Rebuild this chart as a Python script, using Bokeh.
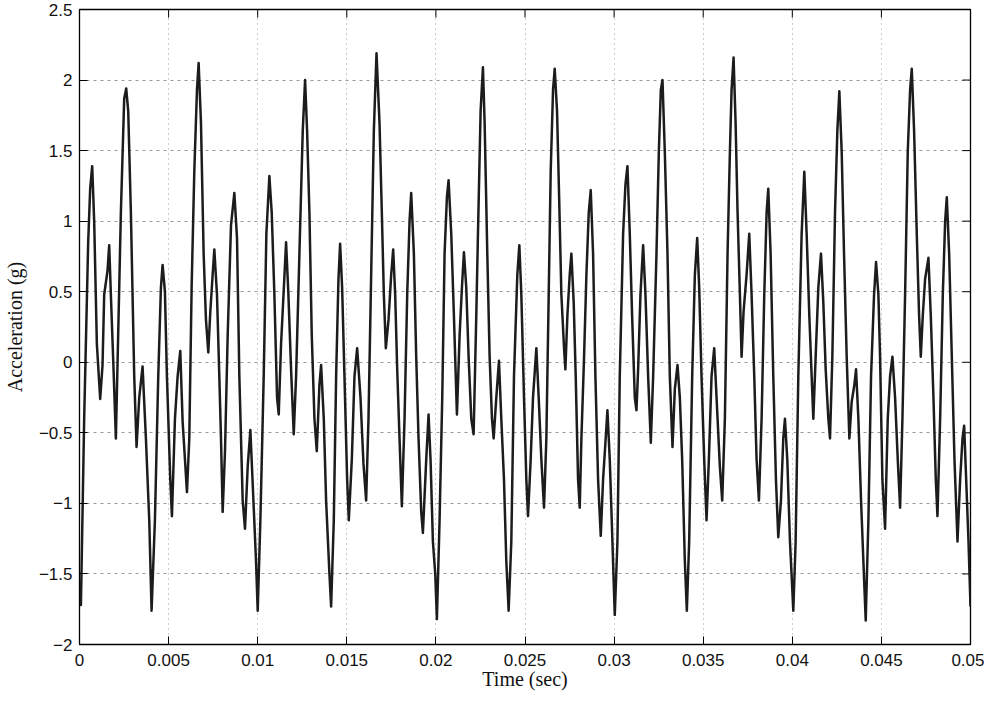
import math
from bokeh.plotting import figure
from bokeh.models import Range1d, FixedTicker, CustomJSTickFormatter
from bokeh.embed import file_html
from bokeh.resources import INLINE

# Acceleration trace
time_s = [
    0.000000, 0.000080, 0.000262, 0.000487, 0.000599, 0.000712, 0.000824, 0.000974, 0.001161, 0.001292,
    0.001386, 0.001573, 0.001667, 0.001760, 0.001910, 0.002041, 0.002322, 0.002509, 0.002622, 0.002734,
    0.002884, 0.003071, 0.003202, 0.003352, 0.003539, 0.003727, 0.003914, 0.004045, 0.004232, 0.004419,
    0.004569, 0.004663, 0.004794, 0.004906, 0.005094, 0.005187, 0.005356, 0.005506, 0.005655, 0.005787,
    0.006030, 0.006161, 0.006292, 0.006442, 0.006592, 0.006685, 0.006816, 0.006966, 0.007097, 0.007228,
    0.007341, 0.007472, 0.007566, 0.007715, 0.007846, 0.007940, 0.008034, 0.008165, 0.008315, 0.008502,
    0.008689, 0.008839, 0.008970, 0.009157, 0.009288, 0.009438, 0.009588, 0.009719, 0.009906, 0.010000,
    0.010150, 0.010337, 0.010487, 0.010655, 0.010787, 0.010936, 0.011086, 0.011180, 0.011311, 0.011461,
    0.011592, 0.011723, 0.011873, 0.012022, 0.012154, 0.012341, 0.012528, 0.012659, 0.012772, 0.012903,
    0.013034, 0.013184, 0.013315, 0.013464, 0.013558, 0.013708, 0.013839, 0.014026, 0.014120, 0.014270,
    0.014401, 0.014532, 0.014625, 0.014738, 0.014869, 0.015019, 0.015112, 0.015281, 0.015431, 0.015581,
    0.015768, 0.015936, 0.016086, 0.016217, 0.016367, 0.016517, 0.016667, 0.016835, 0.016966, 0.017079,
    0.017191, 0.017341, 0.017491, 0.017603, 0.017715, 0.017828, 0.017959, 0.018090, 0.018240, 0.018390,
    0.018521, 0.018614, 0.018764, 0.018895, 0.019026, 0.019176, 0.019270, 0.019457, 0.019588, 0.019700,
    0.019831, 0.019963, 0.020056, 0.020206, 0.020356, 0.020487, 0.020618, 0.020712, 0.020861, 0.021011,
    0.021180, 0.021330, 0.021461, 0.021573, 0.021704, 0.021835, 0.021985, 0.022116, 0.022266, 0.022360,
    0.022509, 0.022640, 0.022734, 0.022884, 0.023015, 0.023146, 0.023240, 0.023389, 0.023539, 0.023670,
    0.023820, 0.023951, 0.024082, 0.024232, 0.024382, 0.024569, 0.024682, 0.024794, 0.024944, 0.025075,
    0.025169, 0.025318, 0.025449, 0.025637, 0.025768, 0.025918, 0.026067, 0.026199, 0.026330, 0.026442,
    0.026573, 0.026667, 0.026798, 0.026910, 0.027041, 0.027191, 0.027266, 0.027378, 0.027509, 0.027603,
    0.027734, 0.027846, 0.027978, 0.028071, 0.028165, 0.028315, 0.028446, 0.028577, 0.028689, 0.028820,
    0.028951, 0.029101, 0.029251, 0.029382, 0.029513, 0.029625, 0.029757, 0.029906, 0.030037, 0.030187,
    0.030318, 0.030506, 0.030637, 0.030749, 0.030880, 0.031011, 0.031161, 0.031255, 0.031348, 0.031479,
    0.031629, 0.031760, 0.031910, 0.032060, 0.032191, 0.032378, 0.032510, 0.032622, 0.032715, 0.032846,
    0.032996, 0.033127, 0.033277, 0.033408, 0.033558, 0.033689, 0.033820, 0.033970, 0.034082, 0.034213,
    0.034382, 0.034532, 0.034663, 0.034775, 0.034906, 0.035056, 0.035187, 0.035318, 0.035468, 0.035618,
    0.035749, 0.035936, 0.036067, 0.036217, 0.036367, 0.036498, 0.036592, 0.036704, 0.036817, 0.036929,
    0.037060, 0.037154, 0.037266, 0.037434, 0.037584, 0.037715, 0.037865, 0.037996, 0.038127, 0.038277,
    0.038427, 0.038558, 0.038652, 0.038783, 0.038933, 0.039082, 0.039213, 0.039363, 0.039494, 0.039588,
    0.039719, 0.039869, 0.040056, 0.040187, 0.040337, 0.040524, 0.040674, 0.040805, 0.040955, 0.041086,
    0.041180, 0.041311, 0.041461, 0.041610, 0.041742, 0.041873, 0.042022, 0.042116, 0.042247, 0.042397,
    0.042528, 0.042640, 0.042772, 0.042903, 0.043052, 0.043202, 0.043333, 0.043483, 0.043577, 0.043708,
    0.043858, 0.043989, 0.044120, 0.044270, 0.044419, 0.044588, 0.044700, 0.044831, 0.044925, 0.045056,
    0.045206, 0.045356, 0.045487, 0.045618, 0.045768, 0.045918, 0.046049, 0.046180, 0.046330, 0.046479,
    0.046611, 0.046704, 0.046835, 0.046985, 0.047116, 0.047210, 0.047322, 0.047453, 0.047640, 0.047772,
    0.047921, 0.048052, 0.048146, 0.048296, 0.048446, 0.048577, 0.048670, 0.048802, 0.048951, 0.049101,
    0.049270, 0.049419, 0.049551, 0.049644, 0.049757, 0.049888, 0.050000,
]
accel_g = [
    -1.55, -1.72, -0.40, 0.85, 1.23, 1.39, 1.00, 0.13, -0.26, -0.02,
    0.48, 0.65, 0.83, 0.48, -0.05, -0.54, 1.06, 1.87, 1.94, 1.78,
    1.06, -0.10, -0.60, -0.25, -0.03, -0.54, -1.12, -1.76, -1.12, -0.10,
    0.53, 0.69, 0.50, -0.10, -0.83, -1.09, -0.40, -0.10, 0.08, -0.42,
    -0.92, -0.54, 0.53, 1.35, 1.93, 2.12, 1.70, 0.77, 0.30, 0.07,
    0.36, 0.62, 0.80, 0.48, -0.10, -0.54, -1.06, -0.63, 0.19, 0.97,
    1.20, 0.88, -0.10, -0.98, -1.18, -0.74, -0.48, -0.86, -1.41, -1.76,
    -1.12, -0.10, 0.91, 1.32, 1.06, 0.48, -0.25, -0.37, 0.13, 0.51,
    0.85, 0.48, -0.05, -0.51, -0.10, 0.77, 1.64, 2.00, 1.64, 1.06,
    0.19, -0.40, -0.63, -0.16, -0.02, -0.40, -0.98, -1.50, -1.73, -1.12,
    -0.10, 0.59, 0.84, 0.53, -0.10, -0.83, -1.12, -0.69, -0.10, 0.10,
    -0.25, -0.72, -0.98, -0.40, 0.62, 1.64, 2.19, 1.70, 1.06, 0.48,
    0.10, 0.30, 0.62, 0.80, 0.48, -0.05, -0.54, -1.02, -0.40, 0.48,
    1.00, 1.20, 0.77, 0.04, -0.54, -1.06, -1.21, -0.69, -0.37, -0.69,
    -1.27, -1.50, -1.82, -1.12, -0.25, 0.77, 1.17, 1.29, 0.91, 0.33,
    -0.37, 0.19, 0.53, 0.78, 0.53, 0.04, -0.40, -0.51, 0.33, 0.91,
    1.78, 2.09, 1.70, 0.77, 0.04, -0.40, -0.54, -0.25, 0.01, -0.40,
    -0.83, -1.41, -1.76, -1.27, -0.10, 0.62, 0.83, 0.48, -0.25, -0.83,
    -1.09, -0.69, -0.25, 0.10, -0.25, -0.69, -1.03, -0.54, 0.48, 1.35,
    1.93, 2.08, 1.78, 1.20, 0.48, 0.10, -0.05, 0.33, 0.62, 0.77,
    0.42, -0.10, -0.83, -1.03, -0.54, 0.04, 0.62, 1.06, 1.22, 0.77,
    -0.10, -0.83, -1.23, -0.83, -0.57, -0.34, -0.69, -1.27, -1.79, -1.27,
    -0.10, 0.91, 1.26, 1.39, 0.91, 0.33, -0.25, -0.34, -0.05, 0.48,
    0.83, 0.48, -0.10, -0.57, -0.10, 0.77, 1.49, 1.93, 2.00, 1.49,
    0.77, -0.10, -0.60, -0.19, -0.02, -0.25, -0.69, -1.41, -1.76, -1.27,
    -0.10, 0.62, 0.88, 0.53, -0.10, -0.69, -1.12, -0.69, -0.10, 0.10,
    -0.25, -0.74, -0.98, -0.40, 0.77, 1.49, 1.93, 2.16, 1.70, 1.06,
    0.48, 0.04, 0.36, 0.62, 0.91, 0.48, -0.10, -0.69, -0.98, -0.40,
    0.48, 1.06, 1.23, 0.77, -0.10, -0.83, -1.24, -0.98, -0.54, -0.40,
    -0.69, -1.27, -1.76, -1.27, -0.10, 0.91, 1.35, 0.91, 0.33, -0.10,
    -0.40, 0.04, 0.53, 0.77, 0.42, -0.05, -0.40, -0.54, 0.04, 1.06,
    1.64, 1.92, 1.49, 0.77, 0.04, -0.54, -0.28, -0.16, -0.05, -0.40,
    -0.98, -1.41, -1.83, -1.12, -0.10, 0.48, 0.71, 0.48, 0.04, -0.83,
    -1.18, -0.40, -0.10, 0.04, -0.25, -0.69, -1.03, -0.40, 0.48, 1.49,
    1.93, 2.08, 1.64, 0.91, 0.33, 0.04, 0.33, 0.59, 0.74, 0.33,
    -0.25, -0.83, -1.09, -0.40, 0.48, 1.00, 1.17, 0.77, 0.04, -0.69,
    -1.27, -0.83, -0.54, -0.45, -0.83, -1.27, -1.73,
]

x_ticks = [0.0, 0.005, 0.01, 0.015, 0.02, 0.025, 0.03, 0.035, 0.04, 0.045, 0.05]
y_ticks = [-2.0, -1.5, -1.0, -0.5, 0.0, 0.5, 1.0, 1.5, 2.0, 2.5]
x_lo, x_hi = 0.0, 0.05
y_lo, y_hi = -2.0, 2.5
x_label = "Time (sec)"
y_label = "Acceleration (g)"

p = figure(width=984, height=694, output_backend="svg", toolbar_location=None,
           x_range=Range1d(x_lo, x_hi), y_range=Range1d(y_lo, y_hi),
           min_border_left=72, min_border_right=14, min_border_top=9, min_border_bottom=50,
           background_fill_color="white", border_fill_color="white")
p.outline_line_color = "black"
p.outline_line_width = 1.3

xfmt = CustomJSTickFormatter(code="return tick.toFixed(3).replace(/0+$/, '').replace(/\\.$/, '');")
yfmt = CustomJSTickFormatter(code="var a = Math.abs(tick); var s = String(Math.round(a*10)/10); return (tick < 0 ? '\\u2212' : '') + s;")

def style_axis(ax):
    ax.axis_line_color = "black"
    ax.major_tick_in = 8
    ax.major_tick_out = 0
    ax.minor_tick_line_color = None
    ax.major_tick_line_color = "black"
    ax.major_label_text_font = "Liberation Sans"
    ax.major_label_text_font_size = "17px"
    ax.major_label_text_color = "#111111"
    ax.axis_label_text_font = "Liberation Serif"
    ax.axis_label_text_font_size = "20px"
    ax.axis_label_text_font_style = "normal"
    ax.axis_label_text_color = "#111111"

for ax in p.xaxis:
    ax.ticker = FixedTicker(ticks=x_ticks)
    ax.formatter = xfmt
    style_axis(ax)
    ax.axis_label = x_label
    ax.major_label_standoff = 9
    ax.axis_label_standoff = -1
for ax in p.yaxis:
    ax.ticker = FixedTicker(ticks=y_ticks)
    ax.formatter = yfmt
    style_axis(ax)
    ax.axis_label = y_label
    ax.major_label_standoff = 7
    ax.axis_label_standoff = 10

p.xgrid.ticker = FixedTicker(ticks=x_ticks)
p.ygrid.ticker = FixedTicker(ticks=y_ticks)
p.xgrid.grid_line_color = "#9a9a9a"
p.xgrid.grid_line_dash = "1 4"
p.xgrid.grid_line_width = 1
p.ygrid.grid_line_color = "#9a9a9a"
p.ygrid.grid_line_dash = "3 4"
p.ygrid.grid_line_width = 1

# inward tick marks on the top and right edges of the box (half of each dash is clipped by the frame)
p.scatter(x_ticks, [y_hi] * len(x_ticks), marker="dash", angle=math.pi / 2, size=16,
          line_color="black", line_width=1)
p.scatter([x_hi] * len(y_ticks), y_ticks, marker="dash", size=16,
          line_color="black", line_width=1)

p.line(time_s, accel_g, line_color="#1c1c1c", line_width=2.5, line_join="round")

open("out.html", "w").write(file_html(p, INLINE))
